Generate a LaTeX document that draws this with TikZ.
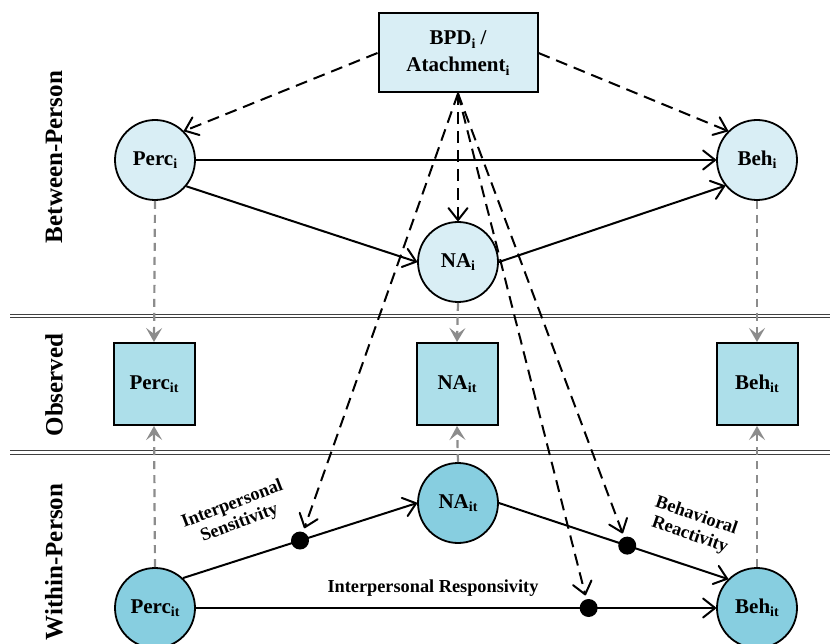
\documentclass[tikz,border=0pt]{standalone}
\usepackage{fontspec}
\setmainfont{Liberation Serif}
\usetikzlibrary{arrows.meta,calc}
\definecolor{lightfill}{RGB}{217,238,245}
\definecolor{obsfill}{RGB}{173,223,234}
\definecolor{withinfill}{RGB}{135,206,224}
\definecolor{grayarrow}{RGB}{140,140,140}
\newcommand{\sbs}[1]{\raisebox{-0.35ex}{\fontsize{14}{14}\selectfont #1}}
\begin{document}
\begin{tikzpicture}[x=1pt,y=-1pt,
  nodetext/.style={font=\fontsize{21}{27}\selectfont\bfseries, align=center},
  latentb/.style={nodetext, circle, draw, line width=1.8pt, fill=lightfill, minimum size=80pt, inner sep=0pt},
  latentw/.style={nodetext, circle, draw, line width=1.8pt, fill=withinfill, minimum size=80pt, inner sep=0pt},
  obsbox/.style={nodetext, rectangle, draw, line width=2pt, fill=obsfill, minimum width=81pt, minimum height=82pt, inner sep=0pt},
  topbox/.style={nodetext, rectangle, draw, line width=2pt, fill=lightfill, minimum width=159pt, minimum height=79pt, inner sep=0pt},
  sidelabel/.style={font=\fontsize{25}{25}\selectfont\bfseries, rotate=90},
  pathlabel/.style={font=\fontsize{18.3}{20}\selectfont\bfseries, align=center},
  tipstyle/.tip={Straight Barb[length=12pt,width=19pt,line width=2pt,round]},
  solidarrow/.style={line width=2pt, -tipstyle},
  dasharrow/.style={line width=2pt, dash pattern=on 12pt off 7pt, -tipstyle},
  grayarrowstyle/.style={line width=2.2pt, grayarrow, dash pattern=on 8pt off 6pt, -{Stealth[length=14pt,width=16pt,inset=6pt]}},
  dotnode/.style={circle, fill=black, minimum size=18pt, inner sep=0pt}
]
\useasboundingbox (0,0) rectangle (830,644);

% separators
\draw[line width=1pt, black!75] (10,314.5) -- (830,314.5);
\draw[line width=1pt, black!75] (10,318) -- (830,318);
\draw[line width=1pt, black!75] (10,450.5) -- (830,450.5);
\draw[line width=1pt, black!75] (10,454) -- (830,454);

% side labels
\node[sidelabel] (lb) at (54,157) {Between-Person};
\node[sidelabel] (lo) at (54,385) {Observed};
\node[sidelabel] (lw) at (54,562) {Within-Person};

% nodes
\node[topbox] (bpd) at (458,53) {BPD\sbs{i} /\\Atachment\sbs{i}};
\node[latentb] (percb) at (155,160) {Perc\sbs{i}};
\node[latentb] (nab) at (458,262) {NA\sbs{i}};
\node[latentb] (behb) at (757,160) {Beh\sbs{i}};

\node[obsbox] (perco) at (154,384) {Perc\sbs{it}};
\node[obsbox] (nao) at (457,384) {NA\sbs{it}};
\node[obsbox] (beho) at (757,384) {Beh\sbs{it}};

\node[latentw] (percw) at (155,608) {Perc\sbs{it}};
\node[latentw] (naw) at (458,503) {NA\sbs{it}};
\node[latentw] (behw) at (757,608) {Beh\sbs{it}};

% gray measurement arrows
\draw[grayarrowstyle] (percb.south) -- (perco.north);
\draw[grayarrowstyle] (nab.south) -- (nao.north);
\draw[grayarrowstyle] (behb.south) -- (beho.north);
\draw[grayarrowstyle] (percw.north) -- (perco.south);
\draw[grayarrowstyle] (naw.north) -- (nao.south);
\draw[grayarrowstyle] (behw.north) -- (beho.south);

% between-person paths
\draw[solidarrow] (percb.east) -- (behb.west);
\draw[solidarrow] (percb.-40) -- (nab.west);
\draw[solidarrow] (nab.east) -- (behb.-141);

% within-person paths
\draw[solidarrow] (percw.47) -- node[dotnode, pos=0.5] (d1) {} (naw.west);
\draw[solidarrow] (naw.east) -- node[dotnode, pos=0.56] (d2) {} (behw.135);
\draw[solidarrow] (percw.east) -- node[dotnode, pos=0.755] (d3) {} (behw.west);

% BPD dashed arrows
\draw[dasharrow] (bpd.west) -- (percb.north east);
\draw[dasharrow] (bpd.east) -- (behb.north west);
\draw[dasharrow] (bpd.south) -- (nab.north);
\draw[dasharrow, shorten >=3pt] (bpd.south) -- (d1);
\draw[dasharrow, shorten >=3pt] (bpd.south) -- (d2);
\draw[dasharrow, shorten >=3pt] (bpd.south) -- (d3);

% path labels
\node[pathlabel, rotate=21] (ls) at (236,514) {Interpersonal\\Sensitivity};
\node[pathlabel, rotate=-19] (lr) at (693,526) {Behavioral\\Reactivity};
\node[pathlabel] (lresp) at (433,588) {Interpersonal Responsivity};
\end{tikzpicture}
\end{document}
